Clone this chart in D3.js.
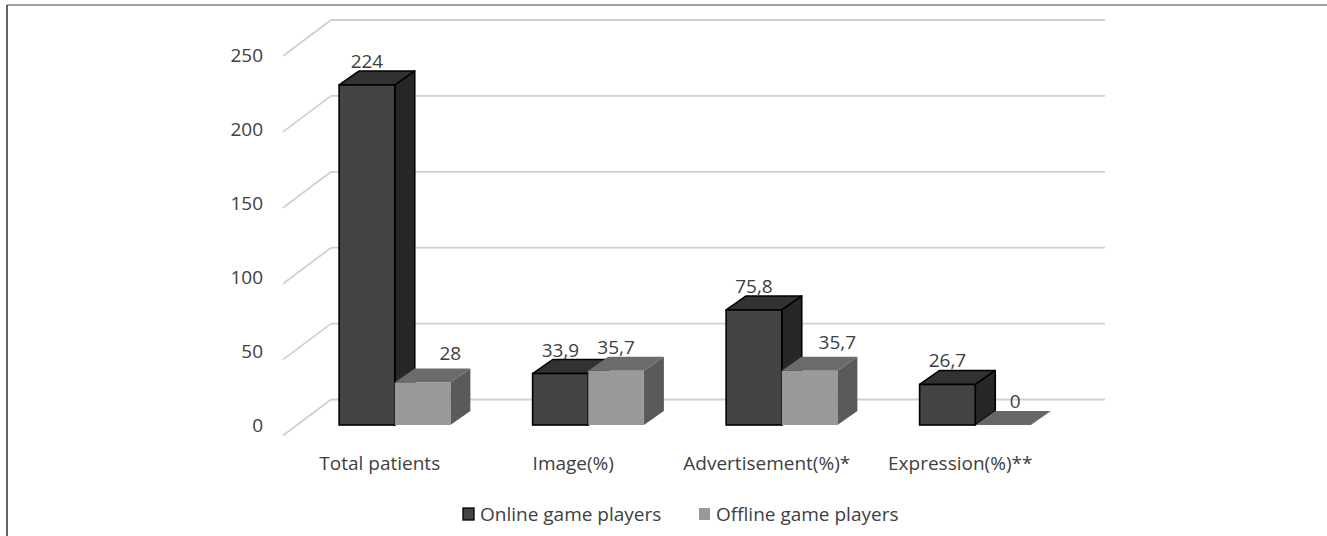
<!DOCTYPE html>
<html>
<head>
<meta charset="utf-8">
<script src="https://cdn.jsdelivr.net/npm/d3@7/dist/d3.min.js"></script>
<style>
  html, body { margin: 0; padding: 0; background: #fff; }
  svg { display: block; }
  text { font-family: "Open Sans", sans-serif; fill: #404040; }
</style>
</head>
<body>
<svg id="chart" width="1327" height="536"></svg>
<script>
const categories = ["Total patients", "Image(%)", "Advertisement(%)*", "Expression(%)**"];
const seriesNames = ["Online game players", "Offline game players"];
const onlineValues = [224, 33.9, 75.8, 26.7];
const offlineValues = [28, 35.7, 35.7, 0];
const tickValues = [0, 50, 100, 150, 200, 250];

const fmt = v => String(v).replace(".", ",");
const FS = "19px";

const svg = d3.select("#chart");

// outer frame
svg.append("line").attr("x1", 7).attr("y1", 5).attr("x2", 1327).attr("y2", 5)
  .attr("stroke", "#808080").attr("stroke-width", 1.5);
svg.append("line").attr("x1", 7).attr("y1", 5).attr("x2", 7).attr("y2", 536)
  .attr("stroke", "#303030").attr("stroke-width", 1.5);

// scales
const yBack = d3.scaleLinear().domain([0, 250]).range([399.5, 20]);
const yLabel = d3.scaleLinear().domain([0, 250]).range([425, 55]);
const x = d3.scaleBand().domain(categories).range([283, 1057]).padding(0);
const depth = { x: 48, y: -36 };      // floor depth
const front = { x: 15, y: -10.5 };   // bar front plane offset from floor front
const bdep = { x: 20, y: -14 };       // bar depth
const bw = x.bandwidth() * 0.2875;
const xs = d3.scaleBand().domain(seriesNames).range([0, 2 * bw]).padding(0);
const yFront = v => yBack(v) - depth.y + front.y;

// gridlines: back wall + left diagonal
const grid = svg.append("g");
tickValues.forEach(t => {
  const yb = yBack(t);
  grid.append("line")
    .attr("x1", 283 + depth.x).attr("y1", yb)
    .attr("x2", x.range()[1] + depth.x).attr("y2", yb)
    .attr("stroke", "#d0d0d0").attr("stroke-width", 1.8);
  grid.append("line")
    .attr("x1", 283).attr("y1", yb - depth.y)
    .attr("x2", 283 + depth.x).attr("y2", yb)
    .attr("stroke", "#d0d0d0").attr("stroke-width", 1.8);
});

// y axis labels
const yAxis = d3.axisLeft(yLabel).tickValues(tickValues).tickSize(0).tickPadding(0);
const gy = svg.append("g").attr("transform", "translate(263,0)").call(yAxis);
gy.select(".domain").remove();
gy.selectAll("text").style("font-size", FS).attr("fill", "#404040")
  .style("font-family", "'Open Sans', sans-serif");

// bars
const styles = {
  "Online game players": { front: "#444444", side: "#272727", top: "#323232", stroke: "#000", sw: 1.6 },
  "Offline game players": { front: "#999999", side: "#5a5a5a", top: "#6b6b6b", stroke: "none", sw: 0 }
};
const zeroColor = "#676767";

const bars = [];
categories.forEach((c, i) => {
  bars.push({ cat: c, s: seriesNames[0], v: onlineValues[i], other: offlineValues[i] });
  bars.push({ cat: c, s: seriesNames[1], v: offlineValues[i], other: onlineValues[i] });
});

const gBars = svg.append("g");
const gLabels = svg.append("g");
bars.forEach(b => {
  const st = styles[b.s];
  const gx = x(b.cat) + x.bandwidth() / 2 - bw + front.x;
  const x0 = gx + xs(b.s), x1 = x0 + bw;
  const yb = yFront(0), yt = yFront(b.v);
  const g = gBars.append("g");
  if (b.v === 0) {
    g.append("path")
      .attr("d", `M${x0},${yb}L${x1},${yb}L${x1 + bdep.x},${yb + bdep.y}L${x0 + bdep.x},${yb + bdep.y}Z`)
      .attr("fill", zeroColor);
  } else {
    g.append("path") // side
      .attr("d", `M${x1},${yb}L${x1 + bdep.x},${yb + bdep.y}L${x1 + bdep.x},${yt + bdep.y}L${x1},${yt}Z`)
      .attr("fill", st.side).attr("stroke", st.stroke).attr("stroke-width", st.sw).attr("stroke-linejoin", "round");
    g.append("path") // top
      .attr("d", `M${x0},${yt}L${x1},${yt}L${x1 + bdep.x},${yt + bdep.y}L${x0 + bdep.x},${yt + bdep.y}Z`)
      .attr("fill", st.top).attr("stroke", st.stroke).attr("stroke-width", st.sw).attr("stroke-linejoin", "round");
    g.append("rect") // front
      .attr("x", x0).attr("y", yt).attr("width", bw).attr("height", yb - yt)
      .attr("fill", st.front).attr("stroke", st.stroke).attr("stroke-width", st.sw);
  }
  // value label
  const shifted = b.s === seriesNames[1] && b.other > b.v;
  let lx = (x0 + x1) / 2;
  if (shifted) lx += (b.v === 0 ? 12 : bw / 2);
  const ly = yt + bdep.y - (shifted && b.v !== 0 ? 8 : 3);
  gLabels.append("text")
    .attr("x", lx).attr("y", ly)
    .attr("text-anchor", "middle")
    .style("font-size", FS)
    .text(fmt(b.v));
});

// category labels
const gx = svg.append("g").attr("transform", "translate(0,470)")
  .call(d3.axisBottom(x).tickSize(0).tickPadding(0));
gx.select(".domain").remove();
gx.selectAll("text").attr("dy", 0).style("font-size", FS).attr("fill", "#404040")
  .style("font-family", "'Open Sans', sans-serif");

// legend
const legend = svg.append("g");
const legendItems = [
  { name: seriesNames[0], x: 463, fill: "#444444", stroke: "#000" },
  { name: seriesNames[1], x: 699, fill: "#999999", stroke: "none" }
];
legendItems.forEach(it => {
  legend.append("rect").attr("x", it.x).attr("y", 508).attr("width", 11).attr("height", 12)
    .attr("fill", it.fill).attr("stroke", it.stroke).attr("stroke-width", 1.3);
  legend.append("text").attr("x", it.x + 17).attr("y", 521)
    .style("font-size", FS).text(it.name);
});
</script>
</body>
</html>
